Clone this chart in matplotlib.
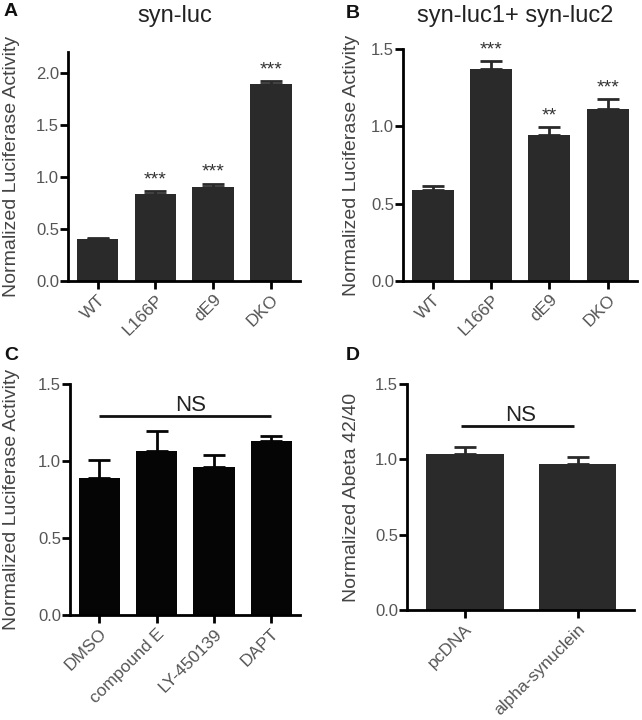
import numpy as np
import matplotlib
matplotlib.use("Agg")
import matplotlib.pyplot as plt

plt.rcParams['font.family'] = ['Liberation Sans', 'DejaVu Sans']

W, H = 642, 720

# panel A
a_labels = ["WT", "L166P", "dE9", "DKO"]
a_means = [0.40, 0.84, 0.90, 1.89]
a_errs = [0.012, 0.022, 0.035, 0.03]
a_stars = ["", "***", "***", "***"]

# panel B
b_labels = ["WT", "L166P", "dE9", "DKO"]
b_means = [0.587, 1.372, 0.945, 1.114]
b_errs = [0.025, 0.05, 0.052, 0.062]
b_stars = ["", "***", "**", "***"]

# panel C
c_labels = ["DMSO", "compound E", "LY-450139", "DAPT"]
c_means = [0.891, 1.068, 0.960, 1.127]
c_errs = [0.117, 0.126, 0.076, 0.036]
c_ns_span = (0, 3)
c_ns_y = 1.29

# panel D
d_labels = ["pcDNA", "alpha-synuclein"]
d_means = [1.038, 0.971]
d_errs = [0.042, 0.042]
d_ns_span = (-0.03, 0.97)
d_ns_y = 1.223

TICK_C = "#555555"
LAB_C = "#444444"

fig = plt.figure(figsize=(W / 100, H / 100), dpi=100)


def px_axes(l, r, b, t):
    return fig.add_axes([l / W, 1 - b / H, (r - l) / W, (b - t) / H])


def bar_panel(ax, labels, means, errs, ytop, ylabel, color, width, lab_x, l, r):
    x = np.arange(len(labels))
    ax.bar(x, means, width=width, color=color, zorder=2)
    ax.errorbar(x, means, yerr=[np.zeros(len(errs)), errs], fmt="none",
                ecolor=color, elinewidth=2, capsize=8, capthick=2, zorder=1)
    ax.set_xlim(-0.51, len(labels) - 0.5)
    ax.set_ylim(0, ytop)
    ticks = np.arange(0, min(ytop, 2.0) + 0.01, 0.5)
    ax.set_yticks(ticks)
    ax.set_yticklabels([f"{v:.1f}" for v in ticks])
    ax.set_xticks(x)
    ax.set_xticklabels(labels, rotation=45, ha="right", rotation_mode="anchor",
                       fontsize=12.5)
    for s in ["top", "right"]:
        ax.spines[s].set_visible(False)
    for s in ["left", "bottom"]:
        ax.spines[s].set_linewidth(2)
    ax.tick_params(direction="out", length=6, width=2, labelsize=12,
                   labelcolor=TICK_C, pad=2)
    ax.tick_params(axis="x", labelsize=12.5)
    ax.tick_params(axis="y", pad=0.5)
    ax.set_ylabel(ylabel, fontsize=14, color=LAB_C, va="center")
    ax.yaxis.set_label_coords((lab_x - l) / (r - l), 0.5)


def add_stars(ax, means, errs, stars):
    for i, (m, e, s) in enumerate(zip(means, errs, stars)):
        if s:
            ax.annotate(s, (i, m + e), xytext=(0, 2), textcoords="offset points",
                        ha="center", va="bottom", fontsize=14, color="#333333")


def add_ns(ax, span, y):
    ax.plot(span, [y, y], color="#111111", lw=2, solid_capstyle="butt")
    ax.text(np.mean(span) + 0.03 * (span[1] - span[0]), y, "NS", ha="center",
            va="bottom", fontsize=16, color="#222222")


axA = px_axes(68, 300, 281, 52)
bar_panel(axA, a_labels, a_means, a_errs, 2.2, "Normalized Luciferase Activity",
          "#2a2a2a", 0.72, 12, 68, 300)
add_stars(axA, a_means, a_errs, a_stars)

axB = px_axes(403, 637, 281, 49)
bar_panel(axB, b_labels, b_means, b_errs, 1.5, "Normalized Luciferase Activity",
          "#2a2a2a", 0.72, 352, 403, 637)
add_stars(axB, b_means, b_errs, b_stars)

axC = px_axes(70, 300, 615, 384)
bar_panel(axC, c_labels, c_means, c_errs, 1.5, "Normalized Luciferase Activity",
          "#050505", 0.72, 12, 70, 300)
add_ns(axC, c_ns_span, c_ns_y)

axD = px_axes(407, 634, 610, 384)
bar_panel(axD, d_labels, d_means, d_errs, 1.5, "Normalized Abeta 42/40",
          "#2a2a2a", 0.69, 351, 407, 634)
add_ns(axD, d_ns_span, d_ns_y)

fig.text(175 / W, 1 - 16 / H, "syn-luc", ha="center", va="center",
         fontsize=17, color="#222222")
fig.text(515 / W, 1 - 16 / H, "syn-luc1+ syn-luc2", ha="center", va="center",
         fontsize=17, color="#222222")

for letter, lx, ly in [("A", 4, 12), ("B", 346, 14), ("C", 4, 356), ("D", 346, 356)]:
    fig.text(lx / W, 1 - ly / H, letter, ha="left", va="center",
             fontsize=14, fontweight="bold", color="#111111")

fig.savefig("out.png", dpi=100)
